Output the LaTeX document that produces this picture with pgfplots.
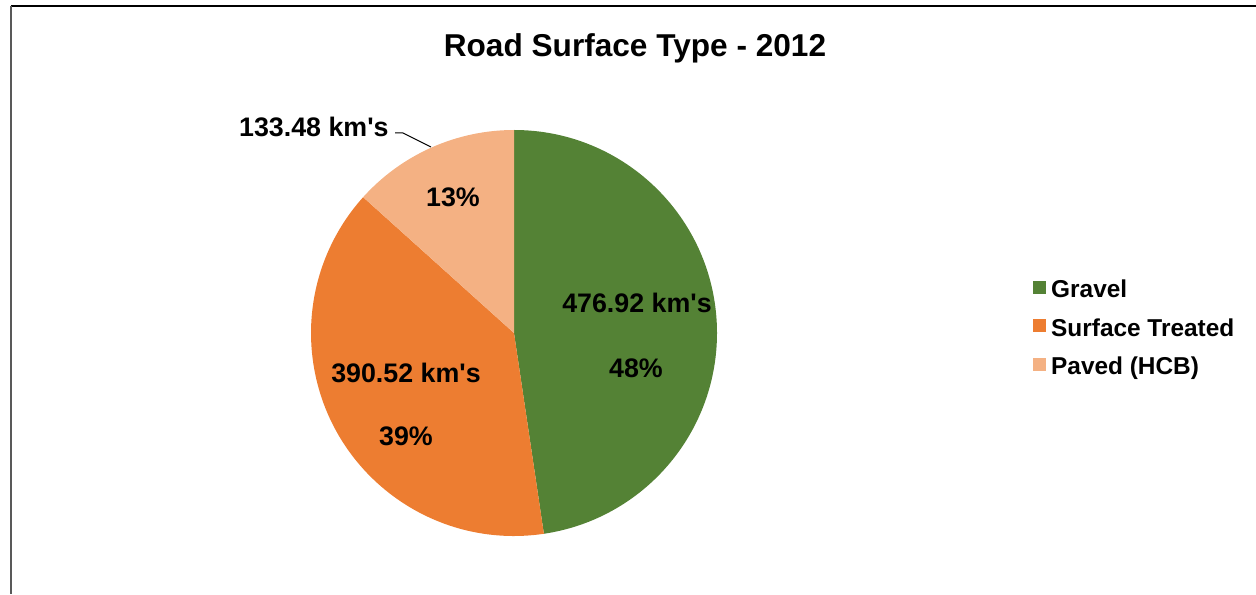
\documentclass[border=0pt]{standalone}
\usepackage{pgfplots}
\usepackage{pgfplotstable}
\pgfplotsset{compat=1.18}
\usepackage{fontspec}
\setmainfont{Liberation Sans}[Ligatures=TeXOff]
\definecolor{gravel}{HTML}{548235}
\definecolor{surface}{HTML}{ED7D31}
\definecolor{paved}{HTML}{F4B183}
\definecolor{framegray}{HTML}{595959}

\pgfplotstableread{
name value
Gravel 476.92
Surface 390.52
Paved 133.48
}\roadtable

\begin{document}
\begin{tikzpicture}
\pgfplotstablegetelem{0}{value}\of\roadtable \let\vA\pgfplotsretval
\pgfplotstablegetelem{1}{value}\of\roadtable \let\vB\pgfplotsretval
\pgfplotstablegetelem{2}{value}\of\roadtable \let\vC\pgfplotsretval
\pgfmathsetmacro\tot{\vA+\vB+\vC}
\pgfmathsetmacro\fA{\vA/\tot}
\pgfmathsetmacro\fB{\vB/\tot}
\pgfmathsetmacro\fC{\vC/\tot}
\pgfmathsetmacro\aA{90-360*\fA}
\pgfmathsetmacro\aB{\aA-360*\fB}
\pgfmathsetmacro\aC{\aB-360*\fC}
\def\R{101.5pt}
\begin{axis}[
  name=main,
  scale only axis,
  x=0.5pt, y=0.5pt,
  xmin=0, xmax=1256, ymin=0, ymax=594,
  hide axis, clip=false,
  legend cell align=left,
  legend style={draw=none, fill=none, at={(axis cs:1027,318)}, anchor=north west,
    font=\fontsize{12.2}{14}\selectfont\bfseries,
    nodes={inner sep=0pt, text height=8.8pt, text depth=2.3pt},
    row sep=8.15pt, column sep=2.5pt},
  legend image code/.code={\fill[#1] (0pt,-0.8pt) rectangle (6pt,5.2pt);},
]
\addlegendimage{gravel}\addlegendentry{Gravel}
\addlegendimage{surface}\addlegendentry{Surface Treated}
\addlegendimage{paved}\addlegendentry{Paved (HCB)}

% frame
\draw[black, line width=1pt] (axis cs:11,587.5) -- (axis cs:1256,587.5);
\draw[framegray, line width=1pt] (axis cs:11,588) -- (axis cs:11,0);

% pie slices
\fill[gravel] (axis cs:514,261) -- ++(90:\R) arc[start angle=90, end angle=\aA, radius=\R] -- cycle;
\fill[surface] (axis cs:514,261) -- ++(\aA:\R) arc[start angle=\aA, end angle=\aB, radius=\R] -- cycle;
\fill[paved] (axis cs:514,261) -- ++(\aB:\R) arc[start angle=\aB, end angle=\aC, radius=\R] -- cycle;

% title
\node[font=\fontsize{15.8}{18}\selectfont\bfseries, inner sep=0pt] at (axis cs:635,546) {Road Surface Type - 2012};

% data labels
\begin{scope}[every node/.style={font=\fontsize{13.4}{15}\selectfont\bfseries, inner sep=0pt}]
\node at (axis cs:637,291) {476.92 km's};
\node at (axis cs:636,226) {48\%};
\node at (axis cs:406,221) {390.52 km's};
\node at (axis cs:406,158) {39\%};
\node at (axis cs:453,397) {13\%};
\node[anchor=east] at (axis cs:389,467) {133.48 km's};
\end{scope}
\draw[black, line width=0.5pt] (axis cs:395,461) -- (axis cs:403,461) -- (axis cs:431,447);
\end{axis}
\pgfresetboundingbox
\path[use as bounding box] (main.south west) rectangle (main.north east);
\end{tikzpicture}
\end{document}
